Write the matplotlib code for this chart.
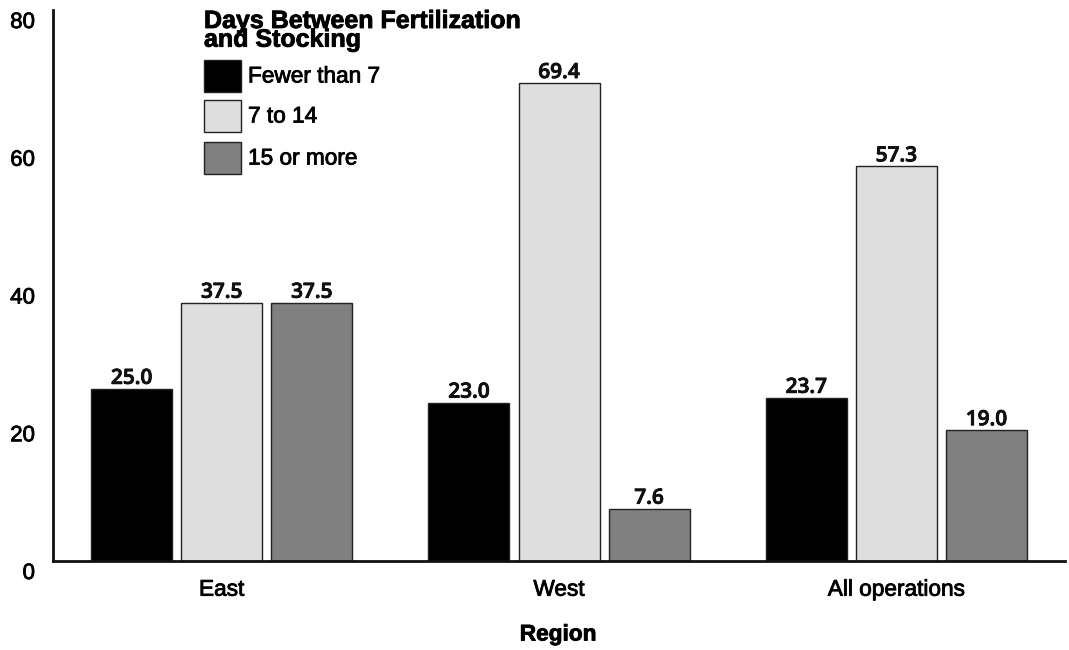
import matplotlib
matplotlib.use("Agg")
import matplotlib.pyplot as plt
import matplotlib.transforms as mtransforms
import matplotlib.patheffects as pe
from matplotlib.patches import Rectangle
import numpy as np

regions = ["East", "West", "All operations"]
series_names = ["Fewer than 7", "7 to 14", "15 or more"]
fewer_than_7 = [25.0, 23.0, 23.7]
days_7_to_14 = [37.5, 69.4, 57.3]
days_15_plus = [37.5, 7.6, 19.0]
y_ticks = [0, 20, 40, 60, 80]

colors = ["#000000", "#dedede", "#808080"]
series = [fewer_than_7, days_7_to_14, days_15_plus]

heavy = [pe.withStroke(linewidth=0.6, foreground="black")]

fig = plt.figure(figsize=(10.69, 6.5), dpi=100)
ax = fig.add_axes([0.0496, 0.1369, 0.9467, 0.8477])

x = np.arange(len(regions))
offset = 0.267
width = 0.24
for i, (vals, col) in enumerate(zip(series, colors)):
    pos = x + (i - 1) * offset
    ax.bar(pos, vals, width=width, color=col, edgecolor="#222222", linewidth=1, zorder=2)
    for p, v in zip(pos, vals):
        ax.annotate(f"{v:.1f}", (p, v), xytext=(0, 0), textcoords="offset points",
                    ha="center", va="bottom", fontsize=15, fontfamily="Open Sans",
                    fontweight="semibold", color="#111111", path_effects=heavy)

ax.set_xlim(-0.5, 2.5)
ax.set_ylim(0, 80)
ax.set_yticks(y_ticks)
ax.set_yticklabels([str(t) for t in y_ticks], fontsize=16, fontfamily="Liberation Sans")
ax.set_xticks(x)
ax.set_xticklabels(regions, fontsize=16.3, fontfamily="Liberation Sans")
ax.tick_params(axis="both", length=0)
ax.tick_params(axis="y", pad=13)
ax.tick_params(axis="x", pad=12)
for s in ["top", "right"]:
    ax.spines[s].set_visible(False)
for s in ["left", "bottom"]:
    ax.spines[s].set_linewidth(2)
    ax.spines[s].set_color("#111111")

# y tick labels sit slightly below their gridline positions
shift = mtransforms.ScaledTranslation(0, -10 / 100, fig.dpi_scale_trans)
for lab in ax.get_yticklabels():
    lab.set_transform(lab.get_transform() + shift)
for lab in ax.get_yticklabels() + ax.get_xticklabels():
    lab.set_path_effects(heavy)

fig.text(558 / 1069, 1 - 634 / 650, "Region", ha="center", va="center",
         fontsize=16.3, fontweight="bold", fontfamily="Liberation Sans", path_effects=heavy)

# legend
fig.text(204 / 1069, 1 - 9 / 650, "Days Between Fertilization\nand Stocking", ha="left", va="top",
         fontsize=18, fontweight="bold", fontfamily="Liberation Sans", linespacing=0.72,
         path_effects=heavy)
box_tops = [60, 100, 142]
for name, col, top in zip(series_names, colors, box_tops):
    fig.patches.append(Rectangle((204 / 1069, 1 - (top + 32) / 650), 37 / 1069, 32 / 650,
                                 transform=fig.transFigure, facecolor=col,
                                 edgecolor="#222222", linewidth=1))
    fig.text(248 / 1069, 1 - (top + 16) / 650, name, ha="left", va="center",
             fontsize=16.3, fontfamily="Liberation Sans", path_effects=heavy)

fig.savefig("out.png", dpi=100)
